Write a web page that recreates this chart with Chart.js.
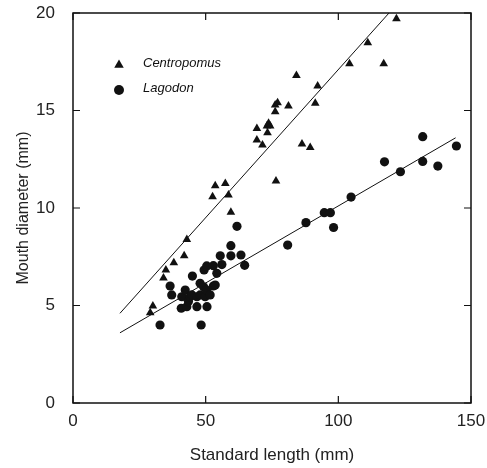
<!DOCTYPE html>
<html>
<head>
<meta charset="utf-8">
<script src="https://cdn.jsdelivr.net/npm/chart.js@4.4.0/dist/chart.umd.min.js"></script>
<style>
html, body { margin: 0; padding: 0; background: #fff; }
</style>
</head>
<body>
<canvas id="chart" width="487" height="468"></canvas>
<script>
// axis ticks
const xTicks = [0, 50, 100, 150];
const yTicks = [0, 5, 10, 15, 20];

// Centropomus (triangles)
const centroLength = [29.1, 30.1, 34.1, 35.0, 38.0, 41.9, 42.9, 52.6, 53.6, 57.4, 58.6, 59.5,
  69.3, 69.3, 71.4, 73.1, 73.7, 74.3, 73.3, 76.2, 76.2, 77.1, 76.5, 81.2, 84.2, 86.3, 89.4,
  91.3, 92.2, 104.2, 111.1, 117.1, 121.9];
const centroMouth = [4.63, 4.97, 6.41, 6.82, 7.19, 7.55, 8.39, 10.58, 11.14, 11.26, 10.67, 9.78,
  14.08, 13.49, 13.23, 14.2, 14.35, 14.2, 13.86, 14.94, 15.28, 15.4, 11.38, 15.23, 16.8, 13.28, 13.1,
  15.37, 16.26, 17.4, 18.47, 17.4, 19.7];

// Lagodon (circles)
const lagoLength = [32.8, 36.6, 37.2, 40.8, 41.0, 42.3, 42.9, 43.5, 44.2, 44.8, 45.0, 46.7, 46.7,
  47.9, 47.9, 48.3, 49.2, 49.4, 49.8, 50.5, 50.3, 51.7, 52.9, 50.4, 52.9, 54.2, 53.6, 55.5, 56.1,
  59.5, 59.5, 61.8, 63.3, 64.7, 80.9, 87.8, 94.7, 97.0, 98.2, 104.8, 117.4, 123.4, 131.8, 131.8,
  137.5, 144.5];
const lagoMouth = [4.0, 6.0, 5.54, 4.86, 5.45, 5.79, 4.94, 5.2, 5.45, 5.54, 6.51, 4.94, 5.45,
  6.14, 5.54, 4.0, 5.96, 6.82, 5.45, 4.94, 5.79, 5.54, 6.0, 7.03, 7.04, 6.65, 6.05, 7.55, 7.1,
  7.55, 8.07, 9.06, 7.59, 7.06, 8.1, 9.25, 9.76, 9.76, 9.0, 10.56, 12.37, 11.86, 12.39, 13.66,
  12.15, 13.18];

// fitted lines (end points)
const centroFitX = [17.7, 119.1];
const centroFitY = [4.6, 20];
const lagoFitX = [17.7, 144.2];
const lagoFitY = [3.6, 13.6];

const toPoints = (xs, ys) => xs.map((v, i) => ({ x: v, y: ys[i] }));

const ink = '#111';
const font = 'Liberation Sans, Arial, sans-serif';

// box, inward ticks on all four sides and the legend
const framePlugin = {
    id: 'frame',
    afterDatasetsDraw(chart) {
        const { ctx, chartArea: a, scales: { x, y } } = chart;
        ctx.save();
        ctx.strokeStyle = ink;
        ctx.lineWidth = 1.5;
        ctx.strokeRect(a.left, a.top, a.right - a.left, a.bottom - a.top);
        ctx.lineWidth = 1.2;
        ctx.beginPath();
        xTicks.forEach(v => {
            const px = x.getPixelForValue(v);
            ctx.moveTo(px, a.bottom); ctx.lineTo(px, a.bottom - 7);
            ctx.moveTo(px, a.top); ctx.lineTo(px, a.top + 7);
        });
        yTicks.forEach(v => {
            const py = y.getPixelForValue(v);
            ctx.moveTo(a.left, py); ctx.lineTo(a.left + 7, py);
            ctx.moveTo(a.right, py); ctx.lineTo(a.right - 7, py);
        });
        ctx.stroke();

        // legend
        const items = [
            { style: 'triangle', radius: 5.5, text: 'Centropomus', dy: 52 },
            { style: 'circle', radius: 5, text: 'Lagodon', dy: 77 }
        ];
        ctx.fillStyle = ink;
        ctx.font = 'italic 13px ' + font;
        ctx.textBaseline = 'middle';
        items.forEach(it => {
            Chart.helpers.drawPoint(ctx, { pointStyle: it.style, radius: it.radius, rotation: 0, borderWidth: 0 },
                a.left + 46, a.top + it.dy);
            ctx.fillText(it.text, a.left + 70, a.top + it.dy - 2);
        });
        ctx.restore();
    }
};

new Chart(document.getElementById('chart'), {
    type: 'scatter',
    data: {
        datasets: [
            {
                label: 'Centropomus',
                data: toPoints(centroLength, centroMouth),
                pointStyle: 'triangle',
                pointRadius: 5,
                backgroundColor: ink,
                borderColor: ink,
                borderWidth: 0
            },
            {
                label: 'Lagodon',
                data: toPoints(lagoLength, lagoMouth),
                pointStyle: 'circle',
                pointRadius: 4.6,
                backgroundColor: ink,
                borderColor: ink,
                borderWidth: 0
            },
            {
                label: 'Centropomus fit',
                data: toPoints(centroFitX, centroFitY),
                showLine: true,
                pointRadius: 0,
                borderColor: ink,
                borderWidth: 1
            },
            {
                label: 'Lagodon fit',
                data: toPoints(lagoFitX, lagoFitY),
                showLine: true,
                pointRadius: 0,
                borderColor: ink,
                borderWidth: 1
            }
        ]
    },
    options: {
        responsive: false,
        animation: false,
        devicePixelRatio: 1,
        layout: { padding: { top: 13, right: 16, left: 0, bottom: 0 } },
        plugins: {
            legend: { display: false },
            tooltip: { enabled: false }
        },
        scales: {
            x: {
                type: 'linear',
                min: 0,
                max: 150,
                afterFit: s => { s.height = 65; s.paddingLeft = 0; s.paddingRight = 0; },
                afterBuildTicks: s => { s.ticks = xTicks.map(v => ({ value: v })); },
                grid: { display: false, drawTicks: false },
                border: { display: false },
                ticks: { color: '#222', padding: 8, font: { family: font, size: 17 } },
                title: {
                    display: true,
                    text: 'Standard length (mm)',
                    color: '#222',
                    font: { family: font, size: 17 },
                    padding: { top: 0, bottom: 2 }
                }
            },
            y: {
                type: 'linear',
                min: 0,
                max: 20,
                afterFit: s => { s.width = 73; s.paddingTop = 0; s.paddingBottom = 0; },
                afterBuildTicks: s => { s.ticks = yTicks.map(v => ({ value: v })); },
                grid: { display: false, drawTicks: false },
                border: { display: false },
                ticks: { color: '#222', padding: 18, font: { family: font, size: 17 } },
                title: {
                    display: true,
                    text: 'Mouth diameter (mm)',
                    color: '#222',
                    font: { family: font, size: 16 },
                    padding: { top: 14, bottom: 0 }
                }
            }
        }
    },
    plugins: [framePlugin]
});
</script>
</body>
</html>
